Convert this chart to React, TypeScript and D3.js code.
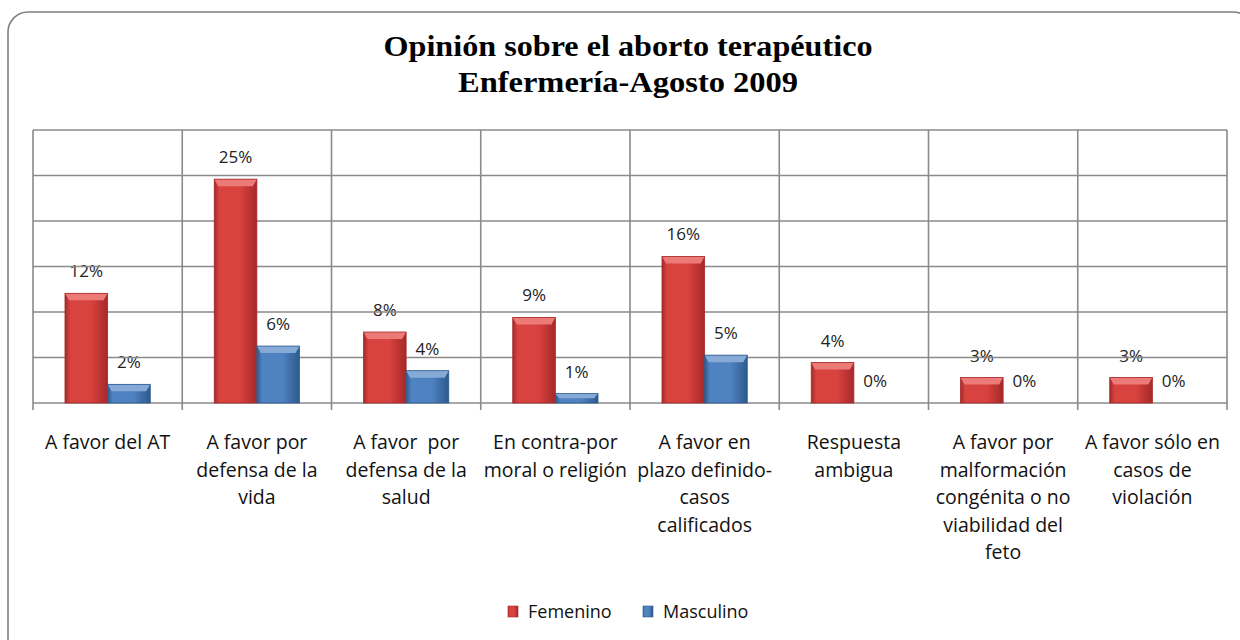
import React from "react";
import * as d3 from "d3";

const titleLines = ["Opinión sobre el aborto terapéutico", "Enfermería-Agosto 2009"];
const categories = [
  "A favor del AT",
  "A favor por defensa de la vida",
  "A favor  por defensa de la salud",
  "En contra-por moral o religión",
  "A favor en plazo definido-casos calificados",
  "Respuesta ambigua",
  "A favor por malformación congénita o no viabilidad del feto",
  "A favor sólo en casos de violación",
];
const categoryLines = [
  ["A favor del AT"],
  ["A favor por", "defensa de la", "vida"],
  ["A favor  por", "defensa de la", "salud"],
  ["En contra-por", "moral o religión"],
  ["A favor en", "plazo definido-", "casos", "calificados"],
  ["Respuesta", "ambigua"],
  ["A favor por", "malformación", "congénita o no", "viabilidad del", "feto"],
  ["A favor sólo en", "casos de", "violación"],
];
const seriesNames = ["Femenino", "Masculino"];
const femenino = [0.1205, 0.246, 0.078, 0.094, 0.161, 0.0445, 0.028, 0.028];
const masculino = [0.0205, 0.0626, 0.0355, 0.0103, 0.0526, 0, 0, 0];
const yDomain = [0, 0.3];

const W = 1240;
const H = 640;
const plot = { left: 33, right: 1227, top: 130, bottom: 403 };
const font = "'Open Sans', sans-serif";
const colors: Record<string, { edge: string; mid: string; top: string }> = {
  Femenino: { edge: "#a5292a", mid: "#d9433f", top: "#ec7a77" },
  Masculino: { edge: "#2d5a8e", mid: "#4f82c0", top: "#86aad8" },
};

export default function App() {
  const x0 = d3.scaleBand<string>().domain(categories).range([plot.left, plot.right]).padding(0);
  const x1 = d3
    .scaleBand<string>()
    .domain(seriesNames)
    .range([0, x0.bandwidth()])
    .paddingInner(0)
    .paddingOuter(0.75);
  const y = d3.scaleLinear().domain(yDomain).range([plot.bottom, plot.top]);
  const ticks = y.ticks(6);
  const fmt = d3.format(".0%");
  const seriesValues: Record<string, number[]> = { Femenino: femenino, Masculino: masculino };
  const bounds = categories.map((c) => x0(c) as number).concat([plot.right]);

  return (
    <svg
      width={W}
      height={H}
      style={{ position: "absolute", left: 0, top: 0, background: "#fff" }}
      xmlns="http://www.w3.org/2000/svg"
    >
      <defs>
        {seriesNames.map((s) => (
          <linearGradient key={s} id={`g-${s}`} x1="0" x2="1" y1="0" y2="0">
            <stop offset="0" stopColor={colors[s].edge} />
            <stop offset="0.12" stopColor={colors[s].mid} />
            <stop offset="0.6" stopColor={colors[s].mid} />
            <stop offset="1" stopColor={colors[s].edge} />
          </linearGradient>
        ))}
      </defs>
      <rect width={W} height={H} fill="#fff" />
      {/* outer frame */}
      <rect x={8} y={12} width={1245} height={650} rx={20} ry={20} fill="none" stroke="#7f7f7f" strokeWidth={1.6} />

      {/* title */}
      <g fontFamily="'Liberation Serif', 'Times New Roman', serif" fontWeight="bold" fontSize={29} fill="#000" textAnchor="middle">
        <text x={628} y={56} textLength={489} lengthAdjust="spacingAndGlyphs">{titleLines[0]}</text>
        <text x={628} y={92} textLength={340} lengthAdjust="spacingAndGlyphs">{titleLines[1]}</text>
      </g>

      {/* data labels (under grid like the reference) */}
      <g fontFamily={font} fontSize={17} fill="#222" textAnchor="middle">
        {seriesNames.map((s) =>
          categories.map((c, i) => {
            const v = seriesValues[s][i];
            const cx = (x0(c) as number) + (x1(s) as number) + x1.bandwidth() / 2;
            return (
              <text key={s + i} x={cx} y={y(v) - 16}>
                {fmt(v)}
              </text>
            );
          })
        )}
      </g>

      {/* gridlines */}
      <g stroke="#8a8a8a" strokeWidth={1.6}>
        {ticks.map((t) => (
          <line key={t} x1={plot.left} x2={plot.right} y1={y(t)} y2={y(t)} />
        ))}
        {bounds.map((b, i) => (
          <line key={"v" + i} x1={b} x2={b} y1={plot.top} y2={plot.bottom + 7} />
        ))}
      </g>

      {/* bars */}
      {seriesNames.map((s) =>
        categories.map((c, i) => {
          const v = seriesValues[s][i];
          if (v <= 0) return null;
          const bx = (x0(c) as number) + (x1(s) as number);
          const bw = x1.bandwidth();
          const top = y(v);
          const h = plot.bottom - top;
          const bh = Math.min(7, h / 2);
          return (
            <g key={s + i}>
              <rect x={bx} y={top} width={bw} height={h} fill={`url(#g-${s})`} />
              <polygon
                points={`${bx},${top} ${bx + bw},${top} ${bx + bw - 4},${top + bh} ${bx + 4},${top + bh}`}
                fill={colors[s].top}
              />
              <rect x={bx} y={top} width={bw} height={h} fill="none" stroke={colors[s].edge} strokeWidth={0.8} />
            </g>
          );
        })
      )}

      {/* category labels */}
      <g fontFamily={font} fontSize={19.5} fill="#111" textAnchor="middle">
        {categories.map((c, i) => (
          <text key={c} x={(x0(c) as number) + x0.bandwidth() / 2} y={449}>
            {categoryLines[i].map((l, j) => (
              <tspan key={j} x={(x0(c) as number) + x0.bandwidth() / 2} y={449 + j * 27.5} style={{ whiteSpace: "pre" }}>
                {l}
              </tspan>
            ))}
          </text>
        ))}
      </g>

      {/* legend */}
      <g fontFamily={font} fontSize={18} fill="#111">
        {seriesNames.map((s, i) => {
          const lx = i === 0 ? 508 : 643;
          return (
            <g key={s}>
              <rect x={lx} y={606} width={10} height={11} fill={`url(#g-${s})`} stroke={colors[s].edge} strokeWidth={0.6} />
              <text x={lx + 20} y={618}>{s}</text>
            </g>
          );
        })}
      </g>
    </svg>
  );
}
